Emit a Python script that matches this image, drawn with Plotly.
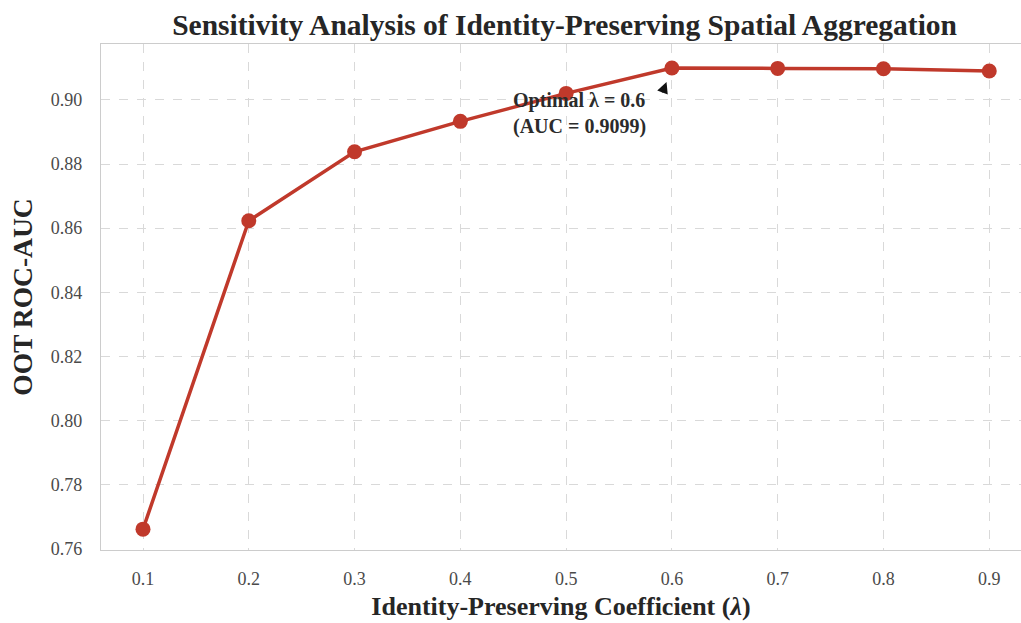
import plotly.graph_objects as go

lambdas = [0.1, 0.2, 0.3, 0.4, 0.5, 0.6, 0.7, 0.8, 0.9]
auc = [0.7662, 0.8623, 0.8838, 0.8933, 0.9020, 0.9099, 0.9098, 0.9097, 0.9090]
x_ticks = [0.1, 0.2, 0.3, 0.4, 0.5, 0.6, 0.7, 0.8, 0.9]
y_ticks = [0.76, 0.78, 0.80, 0.82, 0.84, 0.86, 0.88, 0.90]

best_i = auc.index(max(auc))

fig = go.Figure()
fig.add_trace(go.Scatter(
    x=lambdas, y=auc, mode="lines+markers",
    line=dict(color="#c0392b", width=3.5),
    marker=dict(color="#c0392b", size=15),
    showlegend=False,
))

font_serif = "Liberation Serif, Times New Roman, serif"

fig.add_annotation(
    x=lambdas[best_i], y=auc[best_i], xref="x", yref="y",
    text="", showarrow=True, ax=-10, ay=26,
    arrowhead=2, arrowsize=1.4, arrowwidth=1.6, arrowcolor="#111111", standoff=15,
)
fig.add_annotation(
    x=0.513, y=0.8958, xref="x", yref="y",
    text=f"Optimal λ = {lambdas[best_i]}<br>(AUC = {auc[best_i]:.4f})",
    showarrow=False, align="left", xanchor="center", yanchor="middle",
    font=dict(family=font_serif, size=20, color="#2b2b2b", weight="bold"),
)

fig.update_layout(
    width=1021, height=623,
    margin=dict(l=101, r=0, t=44, b=73),
    paper_bgcolor="white", plot_bgcolor="white",
    title=dict(
        text="<b>Sensitivity Analysis of Identity-Preserving Spatial Aggregation</b>",
        x=0.553, xanchor="center", y=0.961, yanchor="middle",
        font=dict(family=font_serif, size=29.5, color="#262626"),
    ),
    font=dict(family=font_serif),
)
fig.update_xaxes(
    range=[0.0603, 0.930], tickvals=x_ticks, ticktext=[f"{v:.1f}" for v in x_ticks],
    tickfont=dict(family=font_serif, size=18, color="#4a4a4a"),
    showgrid=True, gridcolor="#d9d9d9", griddash="dash", gridwidth=1,
    showline=True, linecolor="#cccccc", linewidth=1.2, mirror=True,
    zeroline=False, ticks="", ticklabelstandoff=12,
    title=dict(text="<b>Identity-Preserving Coefficient (<i>λ</i>)</b>",
               font=dict(family=font_serif, size=26, color="#262626"), standoff=9),
)
fig.update_yaxes(
    range=[0.7597, 0.9174], tickvals=y_ticks, ticktext=[f"{v:.2f}" for v in y_ticks],
    tickfont=dict(family=font_serif, size=18, color="#4a4a4a"),
    showgrid=True, gridcolor="#d9d9d9", griddash="dash", gridwidth=1,
    showline=True, linecolor="#cccccc", linewidth=1.2, mirror=True,
    zeroline=False, ticks="", ticklabelstandoff=14,
    title=dict(text="<b>OOT ROC-AUC</b>",
               font=dict(family=font_serif, size=27.5, color="#262626"), standoff=10),
)

fig.write_html("out.html")
